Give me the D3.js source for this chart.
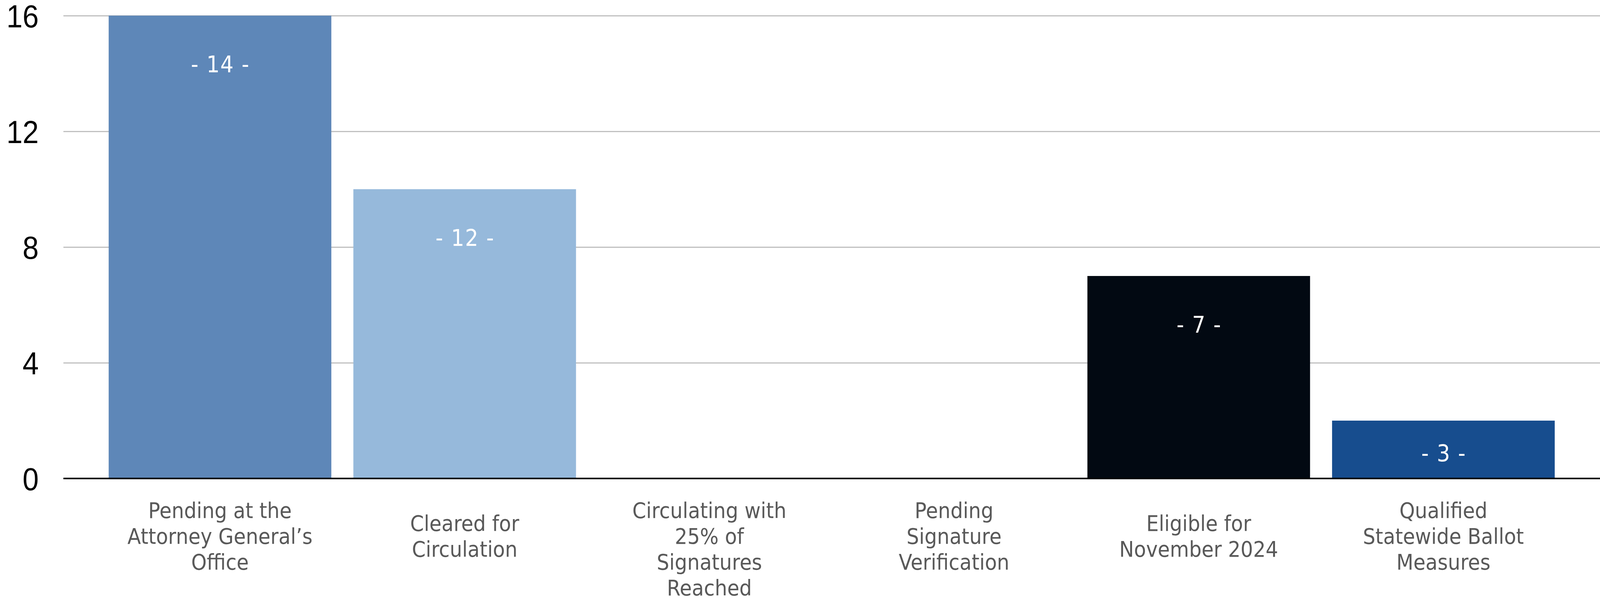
<!DOCTYPE html>
<html>
<head>
<meta charset="utf-8">
<script src="https://cdn.jsdelivr.net/npm/d3@7"></script>
<style>
    html, body { margin: 0; padding: 0; background: #fff; width: 100%; height: 100%; overflow: hidden; }
    #chart { width: 100%; height: 100%; }
    #chart svg { display: block; }
</style>
</head>
<body>
<div id="chart"></div>
<script>
// chart data
var categories = [
    ['Pending at the', 'Attorney General\u2019s', 'Office'],
    ['Cleared for', 'Circulation'],
    ['Circulating with', '25% of', 'Signatures', 'Reached'],
    ['Pending', 'Signature', 'Verification'],
    ['Eligible for', 'November 2024'],
    ['Qualified', 'Statewide Ballot', 'Measures']
];
var barValues = [16, 10, 0, 0, 7, 2];
var barLabels = [14, 12, null, null, 7, 3];
var barColors = ['#5e87b8', '#96b9db', '#5e87b8', '#96b9db', '#020912', '#174d8e'];
var yTicks = [0, 4, 8, 12, 16];

(function () {
    // drawn in a 4466x1540 box, stretched to whatever the window really is
    let width = 4466, height = 1540,
        margins = {
            'left': 177,
            'right': 0,
            'top': 40,
            'bottom': 316
        },
        domainWidth = width - margins.left - margins.right,
        domainHeight = height - margins.top - margins.bottom;

    var svg = d3.select('#chart').append('svg')
        .attr('viewBox', '0 0 ' + width + ' ' + height)
        .attr('preserveAspectRatio', 'none')
        .attr('width', '100%').attr('height', '100%')
        .append('g')
        .attr('transform', 'translate(' + margins.left + ',' + margins.top + ')');

    var x = d3.scaleBand()
        .domain(d3.range(categories.length))
        .range([0, domainWidth])
        .paddingInner(0.09)
        .paddingOuter(0.185);

    var y = d3.scaleLinear()
        .domain([0, 16])
        .range([domainHeight, 0]);

    // gridlines + tick labels
    var yAxis = svg.append('g')
        .attr('class', 'y-axis')
        .call(d3.axisLeft(y).tickValues(yTicks).tickSize(-domainWidth).tickPadding(69));

    yAxis.select('.domain').remove();
    yAxis.selectAll('.tick line')
        .attr('stroke', '#c0c0c0')
        .attr('stroke-width', 3);
    yAxis.selectAll('.tick text')
        .attr('fill', '#000')
        .attr('dy', '0.36em')
        .attr('font-family', '"Liberation Sans", Arial, sans-serif')
        .attr('font-size', 81);

    // bars
    svg.selectAll('rect.bar').data(barValues).enter().append('rect')
        .attr('class', 'bar')
        .attr('x', function (d, i) { return x(i); })
        .attr('width', x.bandwidth())
        .attr('y', function (d) { return y(d); })
        .attr('height', function (d) { return domainHeight - y(d); })
        .attr('fill', function (d, i) { return barColors[i]; });

    // value labels inside the bars
    var labelled = barValues.map(function (v, i) {
        return { i: i, v: v, label: barLabels[i] };
    }).filter(function (d) { return d.label !== null; });

    svg.selectAll('text.value').data(labelled).enter().append('text')
        .attr('class', 'value')
        .attr('x', function (d) { return x(d.i) + x.bandwidth() / 2 + 1; })
        .attr('y', function (d) {
            var h = domainHeight - y(d.v);
            return y(d.v) + Math.min(124, h * 0.56);
        })
        .attr('dy', '0.36em')
        .attr('text-anchor', 'middle')
        .attr('fill', '#fff')
        .attr('font-family', '"DejaVu Sans", sans-serif')
        .attr('font-size', 58)
        .attr('letter-spacing', 2)
        .text(function (d) { return '- ' + d.label + ' -'; });

    // zero line
    svg.append('line')
        .attr('x1', 0).attr('x2', domainWidth)
        .attr('y1', y(0)).attr('y2', y(0))
        .attr('stroke', '#000')
        .attr('stroke-width', 4);

    // category labels, centred under the bar but never above the 3-line start
    var lineH = 66, midBase = 1391 - margins.top, minBase = 1325 - margins.top;
    var cats = svg.selectAll('text.cat').data(categories).enter().append('text')
        .attr('class', 'cat')
        .attr('text-anchor', 'middle')
        .attr('fill', '#595959')
        .attr('font-family', '"DejaVu Sans", sans-serif')
        .attr('font-size', 55);

    cats.each(function (lines, i) {
        var first = Math.max(midBase - (lines.length - 1) * lineH / 2, minBase);
        d3.select(this).selectAll('tspan').data(lines).enter().append('tspan')
            .attr('x', x(i) + x.bandwidth() / 2)
            .attr('y', function (l, j) { return first + j * lineH; })
            .text(function (l) { return l; });
    });
})();
</script>
</body>
</html>
